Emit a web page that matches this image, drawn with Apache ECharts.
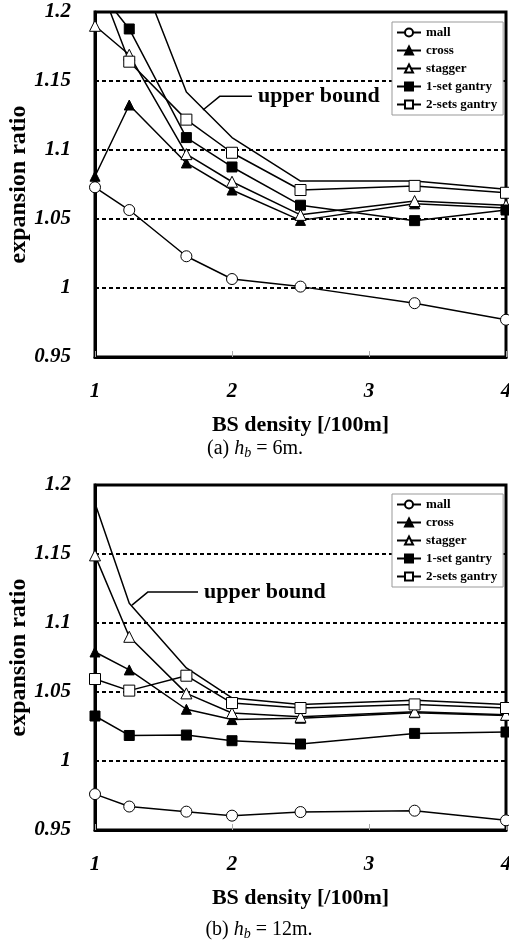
<!DOCTYPE html>
<html>
<head>
<meta charset="utf-8">
<script src="https://cdn.jsdelivr.net/npm/echarts@6/dist/echarts.min.js"></script>
<style>
html,body{margin:0;padding:0;background:#fff;}
#c{width:509px;height:941px;}
</style>
</head>
<body>
<div id="c"></div>
<script>
// ---- data ----
const density = [1, 1.25, 1.667, 2, 2.5, 3.333, 4];
const seriesNames = ['mall', 'cross', 'stagger', '1-set gantry', '2-sets gantry'];
const yTickLabels = ['0.95', '1', '1.05', '1.1', '1.15', '1.2'];
const xTickLabels = ['1', '2', '3', '4'];

// (a) hb = 6m
const mall6    = [1.073, 1.0565, 1.023, 1.0065, 1.001, 0.989, 0.977];
const cross6   = [1.081, 1.1326, 1.0906, 1.071, 1.049, 1.061, 1.058];
const stagger6 = [1.190, 1.169, 1.097, 1.077, 1.053, 1.063, 1.060];
const gantry1_6 = [1.219, 1.1877, 1.109, 1.0877, 1.060, 1.0488, 1.0565];
const gantry2_6 = [1.229, 1.164, 1.122, 1.098, 1.071, 1.074, 1.069];
const upper6   = [1.32, 1.248, 1.142, 1.109, 1.0775, 1.0775, 1.0715];
const leader6x = [1.788, 1.912, 2.146];
const leader6y = [1.129, 1.139, 1.139];

// (b) hb = 12m
const mall12    = [0.976, 0.967, 0.9633, 0.9604, 0.963, 0.964, 0.957];
const cross12   = [1.079, 1.066, 1.0375, 1.030, 1.031, 1.035, 1.033];
const stagger12 = [1.149, 1.090, 1.049, 1.0348, 1.032, 1.0357, 1.0335];
const gantry1_12 = [1.0326, 1.0185, 1.0188, 1.0147, 1.0123, 1.0200, 1.021];
const gantry2_12 = [1.0594, 1.051, 1.0618, 1.042, 1.0384, 1.041, 1.0384];
const upper12   = [1.1867, 1.1143, 1.0674, 1.0457, 1.041, 1.044, 1.041];
const leader12x = [1.270, 1.387, 1.752];
const leader12y = [1.113, 1.1225, 1.1225];

const annotationText = 'upper bound';
const xName = 'BS density [/100m]';
const yName = 'expansion ratio';

// ---- build ----
const SERIF = 'Liberation Serif';
const pair = (xs, ys) => xs.map((x, i) => [x, ys[i]]);

const styles = {
  'mall': {symbol: 'circle', symbolSize: 11, itemStyle: {color: '#fff', borderColor: '#000', borderWidth: 1}},
  'cross': {symbol: 'triangle', symbolSize: 10, itemStyle: {color: '#000', borderColor: '#000', borderWidth: 1}},
  'stagger': {symbol: 'triangle', symbolSize: 11, itemStyle: {color: '#fff', borderColor: '#000', borderWidth: 1}},
  '1-set gantry': {symbol: 'rect', symbolSize: 10, itemStyle: {color: '#000', borderColor: '#000', borderWidth: 1}},
  '2-sets gantry': {symbol: 'rect', symbolSize: 11, itemStyle: {color: '#fff', borderColor: '#000', borderWidth: 1}}
};

function dataSeries(name, ys, gi) {
  const s = styles[name];
  return {
    type: 'line', name: name, xAxisIndex: gi, yAxisIndex: gi,
    data: pair(density, ys), symbol: s.symbol, symbolSize: s.symbolSize,
    showAllSymbol: true, clip: true,
    itemStyle: s.itemStyle, lineStyle: {color: '#000', width: 1.5},
    emphasis: {disabled: true}, z: 3
  };
}
function plainLine(ys, gi) {
  return {
    type: 'line', xAxisIndex: gi, yAxisIndex: gi, data: pair(density, ys),
    symbol: 'none', clip: true, lineStyle: {color: '#000', width: 1.5}, silent: true, z: 2
  };
}
function leader(xs, ys, gi) {
  return {
    type: 'line', xAxisIndex: gi, yAxisIndex: gi, data: pair(xs, ys),
    symbol: 'none', clip: false, lineStyle: {color: '#000', width: 1.5}, silent: true, z: 2,
    endLabel: {show: true, formatter: annotationText, distance: 6,
      fontFamily: SERIF, fontWeight: 'bold', fontSize: 22, color: '#000'}
  };
}

const gridTops = [12, 485];
const grids = gridTops.map(t => ({left: 95, top: t, width: 411, height: 345,
  containLabel: false, outerBoundsMode: 'none',
  show: true, borderColor: '#000', borderWidth: 3, backgroundColor: 'transparent'}));

const tickFont = {fontFamily: SERIF, fontWeight: 'bold', fontStyle: 'italic', fontSize: 21, color: '#000'};
const xAxes = gridTops.map((t, gi) => ({
  type: 'value', gridIndex: gi, min: 1, max: 4, interval: 1,
  name: xName, nameLocation: 'middle', nameGap: 57, nameMoveOverlap: false,
  nameTextStyle: {fontFamily: SERIF, fontWeight: 'bold', fontSize: 22, color: '#000'},
  axisLine: {show: true, lineStyle: {color: '#000', width: 3}},
  axisTick: {show: true, inside: true, length: 6, lineStyle: {color: '#aaa', width: 1}},
  axisLabel: Object.assign({margin: 24, formatter: v => xTickLabels.find(l => Math.abs(parseFloat(l) - v) < 1e-6) || ''}, tickFont),
  splitLine: {show: false}
}));
const yAxes = gridTops.map((t, gi) => ({
  type: 'value', gridIndex: gi, min: 0.95, max: 1.2, interval: 0.05,
  name: yName, nameLocation: 'middle', nameGap: 64, nameRotate: 90, nameMoveOverlap: false,
  nameTextStyle: {fontFamily: SERIF, fontWeight: 'bold', fontSize: 24, color: '#000'},
  axisLine: {show: true, lineStyle: {color: '#000', width: 3}},
  axisTick: {show: false},
  axisLabel: Object.assign({margin: 24, formatter: v => yTickLabels.find(l => Math.abs(parseFloat(l) - v) < 1e-6) || ''}, tickFont),
  splitLine: {show: true, lineStyle: {color: '#000', width: 2, type: [4, 3]}}
}));

const legendTops = [22, 494];
const legends = legendTops.map(t => ({
  data: seriesNames, left: 392, top: t, orient: 'vertical',
  itemWidth: 24, itemHeight: 10, itemGap: 5, itemTextGap: 3,
  padding: [4, 6, 4, 4], borderColor: '#999', borderWidth: 1, backgroundColor: '#fff',
  textStyle: {fontFamily: SERIF, fontWeight: 'bold', fontSize: 13, color: '#000'},
  selectedMode: false
}));

const series = [
  dataSeries('mall', mall6, 0), dataSeries('cross', cross6, 0), dataSeries('stagger', stagger6, 0),
  dataSeries('1-set gantry', gantry1_6, 0), dataSeries('2-sets gantry', gantry2_6, 0),
  plainLine(upper6, 0), leader(leader6x, leader6y, 0),
  dataSeries('mall', mall12, 1), dataSeries('cross', cross12, 1), dataSeries('stagger', stagger12, 1),
  dataSeries('1-set gantry', gantry1_12, 1), dataSeries('2-sets gantry', gantry2_12, 1),
  plainLine(upper12, 1), leader(leader12x, leader12y, 1)
];

const capRich = {
  n: {fontFamily: SERIF, fontSize: 20, color: '#000', lineHeight: 22},
  i: {fontFamily: SERIF, fontStyle: 'italic', fontSize: 20, color: '#000', lineHeight: 22},
  s: {fontFamily: SERIF, fontStyle: 'italic', fontSize: 14, color: '#000', lineHeight: 14, verticalAlign: 'bottom'}
};
const captions = [
  {text: '{n|(a) }{i|h}{s|b}{n| = 6m.}', x: 255, y: 449},
  {text: '{n|(b) }{i|h}{s|b}{n| = 12m.}', x: 259, y: 930}
];

const chart = echarts.init(document.getElementById('c'), null, {renderer: 'canvas'});
chart.setOption({
  animation: false,
  backgroundColor: '#fff',
  grid: grids, xAxis: xAxes, yAxis: yAxes, legend: legends, series: series,
  graphic: captions.map(c => ({
    type: 'text', x: c.x, y: c.y, silent: true,
    style: {text: c.text, rich: capRich, align: 'center', verticalAlign: 'middle'}
  }))
});
</script>
</body>
</html>
